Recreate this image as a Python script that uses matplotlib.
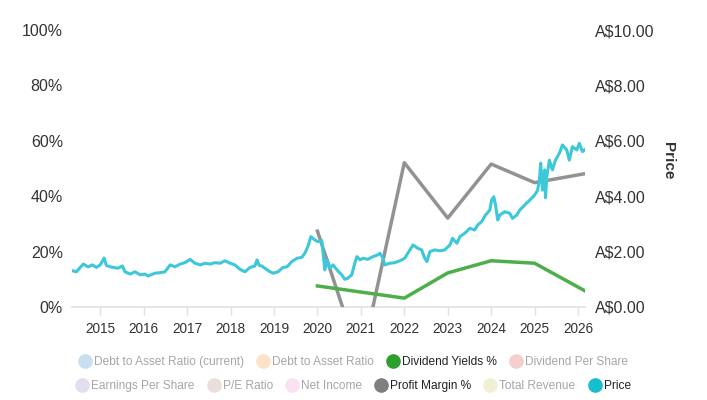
import matplotlib
matplotlib.use("Agg")
import matplotlib.pyplot as plt
from matplotlib.lines import Line2D

plt.rcParams['font.family'] = ['Liberation Sans', 'DejaVu Sans']

# ---- data ----
price_dates = [2014.36, 2014.45, 2014.61, 2014.72, 2014.82, 2014.91, 2015.00, 2015.09, 2015.14,
               2015.23, 2015.41, 2015.51, 2015.57, 2015.69, 2015.80, 2015.92, 2016.03, 2016.10,
               2016.26, 2016.38, 2016.49, 2016.61, 2016.72, 2016.84, 2016.95, 2017.07, 2017.18,
               2017.30, 2017.41, 2017.53, 2017.64, 2017.76, 2017.87, 2017.99, 2018.10, 2018.22,
               2018.33, 2018.45, 2018.56, 2018.61, 2018.66, 2018.72, 2018.79, 2018.91, 2018.98,
               2019.09, 2019.21, 2019.30, 2019.41, 2019.53, 2019.64, 2019.71, 2019.78, 2019.85,
               2019.94, 2020.01, 2020.10, 2020.17, 2020.22, 2020.29, 2020.36, 2020.45, 2020.56,
               2020.63, 2020.70, 2020.79, 2020.86, 2020.91, 2020.98, 2021.05, 2021.16, 2021.28,
               2021.39, 2021.44, 2021.51, 2021.55, 2021.67, 2021.78, 2021.90, 2022.01, 2022.13,
               2022.20, 2022.31, 2022.40, 2022.47, 2022.52, 2022.59, 2022.70, 2022.82, 2022.93,
               2023.05, 2023.11, 2023.21, 2023.28, 2023.39, 2023.51, 2023.62, 2023.69, 2023.78,
               2023.87, 2023.97, 2024.01, 2024.06, 2024.10, 2024.15, 2024.20, 2024.31, 2024.43,
               2024.49, 2024.59, 2024.66, 2024.77, 2024.89, 2025.00, 2025.07, 2025.11, 2025.14,
               2025.18, 2025.23, 2025.25, 2025.28, 2025.34, 2025.41, 2025.48, 2025.57, 2025.64,
               2025.74, 2025.80, 2025.87, 2025.97, 2026.03, 2026.10, 2026.15]
price_values = [1.31, 1.27, 1.55, 1.45, 1.52, 1.43, 1.52, 1.77, 1.50,
                1.45, 1.40, 1.48, 1.27, 1.19, 1.27, 1.16, 1.19, 1.12,
                1.22, 1.24, 1.27, 1.52, 1.45, 1.55, 1.60, 1.72, 1.58,
                1.52, 1.58, 1.55, 1.60, 1.58, 1.67, 1.58, 1.52, 1.36,
                1.27, 1.43, 1.48, 1.70, 1.50, 1.48, 1.40, 1.27, 1.22,
                1.27, 1.43, 1.45, 1.64, 1.76, 1.79, 1.94, 2.18, 2.54,
                2.42, 2.36, 2.40, 1.34, 1.70, 1.40, 1.52, 1.34, 1.16,
                1.00, 1.04, 1.16, 1.58, 1.82, 1.70, 1.76, 1.72, 1.82,
                1.88, 1.94, 1.76, 1.52, 1.58, 1.60, 1.67, 1.76, 2.06,
                2.24, 2.12, 2.06, 1.76, 1.64, 2.00, 2.06, 2.03, 2.06,
                2.24, 2.48, 2.30, 2.54, 2.66, 2.84, 2.78, 2.96, 3.08,
                3.32, 3.50, 3.86, 3.98, 3.68, 3.14, 3.32, 3.44, 3.38,
                3.20, 3.32, 3.50, 3.68, 3.86, 4.04, 4.22, 4.58, 5.19,
                4.22, 4.95, 3.94, 4.70, 5.30, 4.95, 5.30, 5.55, 5.85,
                5.67, 5.30, 5.79, 5.67, 5.91, 5.61, 5.67]

margin_dates = [2020.0, 2021.0, 2022.0, 2023.0, 2024.0, 2025.0, 2026.15]
margin_values = [27.4, -20.0, 52.1, 32.1, 51.6, 44.9, 48.1]

yield_dates = [2020.0, 2022.0, 2023.0, 2024.0, 2025.0, 2026.15]
yield_values = [7.6, 3.2, 12.3, 16.7, 15.8, 5.9]

year_ticks = list(range(2015, 2027))
left_ticks = [0, 20, 40, 60, 80, 100]
right_ticks = [0, 2, 4, 6, 8, 10]

legend_row1 = [("Debt to Asset Ratio (current)", "#c9dff0", False),
               ("Debt to Asset Ratio", "#fde2c8", False),
               ("Dividend Yields %", "#2ca02c", True),
               ("Dividend Per Share", "#f5cfcf", False)]
legend_row2 = [("Earnings Per Share", "#e4dcef", False),
               ("P/E Ratio", "#e9dedc", False),
               ("Net Income", "#fbe1f1", False),
               ("Profit Margin %", "#7f7f7f", True),
               ("Total Revenue", "#f0f0d4", False),
               ("Price", "#17becf", True)]

# ---- figure ----
fig = plt.figure(figsize=(7.07, 4.0), dpi=100)
ax = fig.add_axes([72/707, 1-307/400, (585-72)/707, (307-30)/400])
ax2 = ax.twinx()

ax.plot(margin_dates, margin_values, color="#929292", lw=2.5, zorder=3)
ax.plot(yield_dates, yield_values, color="#4caf4a", lw=2.5, zorder=3)
ax2.plot(price_dates, price_values, color="#3cc8d8", lw=2.2, zorder=2)

ax.set_xlim(2014.35, 2026.16)
ax.set_ylim(0, 100)
ax2.set_ylim(0, 10)

ax.set_xticks(year_ticks)
ax.set_xticklabels([str(y) for y in year_ticks])
ax.set_yticks(left_ticks)
ax.set_yticklabels([f"{v}%" for v in left_ticks])
ax2.set_yticks(right_ticks)
ax2.set_yticklabels([f"A${v:.2f}" for v in right_ticks])

for a in (ax, ax2):
    for s in a.spines.values():
        s.set_visible(False)
ax.spines['bottom'].set_visible(True)
ax.spines['bottom'].set_color("#e0e0e0")
ax.spines['bottom'].set_linewidth(1.2)

ax.tick_params(axis='x', colors="#e0e0e0", length=6, width=1, labelcolor="#333333",
               labelsize=9.8, pad=5)
ax.tick_params(axis='y', length=0, labelcolor="#333333", labelsize=11.5, pad=6.5)
ax2.tick_params(axis='y', length=0, labelcolor="#333333", labelsize=11.5, pad=7.5)

ax2.set_ylabel("Price", rotation=270, fontsize=11, fontweight='bold', color="#333333")
ax2.yaxis.set_label_coords(1.175, 0.53)

def make_legend(items, y):
    handles = [Line2D([], [], ls='none', marker='o', markersize=9.5,
                      markerfacecolor=c, markeredgecolor=c) for _, c, _ in items]
    labels = [t for t, _, _ in items]
    leg = fig.legend(handles, labels, loc='center', bbox_to_anchor=(0.5, y),
                     ncol=len(items), frameon=False, fontsize=8.6,
                     handletextpad=0.25, columnspacing=1.1, handlelength=1.0)
    for txt, (_, _, active) in zip(leg.get_texts(), items):
        txt.set_color("#222222" if active else "#a6a6a6")
    return leg

make_legend(legend_row1, 1-362/400)
make_legend(legend_row2, 1-386/400)

fig.savefig("out.png", dpi=100)
